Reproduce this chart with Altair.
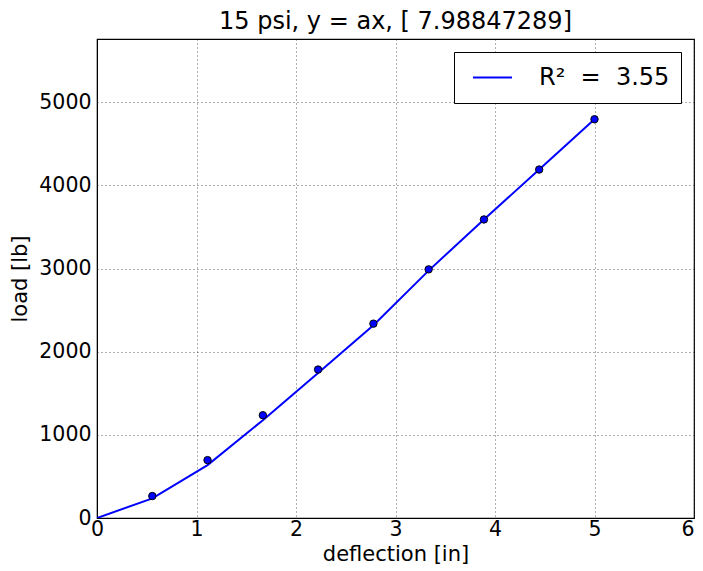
import altair as alt
import pandas as pd

# data
deflection_pts = [0.556, 1.111, 1.667, 2.222, 2.778, 3.333, 3.889, 4.444, 5.0]
load_pts = [264, 696, 1236, 1785, 2337, 2990, 3590, 4190, 4795]

deflection_fit = [0.0, 0.556, 1.111, 1.667, 2.222, 2.778, 3.333, 3.889, 4.444, 5.0]
load_fit = [0, 236, 636, 1176, 1744, 2317, 2975, 3590, 4190, 4795]

x_ticks = [0, 1, 2, 3, 4, 5, 6]
y_ticks = [0, 1000, 2000, 3000, 4000, 5000]
legend_label = "R²\u00a0\u00a0=\u00a0\u00a03.55"
title_text = "15 psi, y = ax, [ 7.98847289]"

pts = pd.DataFrame({"deflection": deflection_pts, "load": load_pts})
fit = pd.DataFrame({"deflection": deflection_fit, "load": load_fit, "series": legend_label})

FONT = "DejaVu Sans"

xscale = alt.Scale(domain=[0, 6], nice=False, zero=False)
yscale = alt.Scale(domain=[0, 5760], nice=False, zero=False)

xaxis = alt.Axis(
    values=x_ticks,
    title="deflection [in]",
    format="d",
    labelAlign={"condition": {"test": "datum.value >= 6", "value": "right"}, "value": "center"},
)
yaxis = alt.Axis(values=y_ticks, title="load [lb]", format="d")

line = alt.Chart(fit).mark_line(strokeWidth=2, clip=True).encode(
    x=alt.X("deflection:Q", scale=xscale, axis=xaxis),
    y=alt.Y("load:Q", scale=yscale, axis=yaxis),
    color=alt.Color(
        "series:N",
        scale=alt.Scale(domain=[legend_label], range=["#0000ff"]),
        legend=alt.Legend(
            title=None,
            orient="top-right",
            offset=13,
            symbolType="stroke",
            symbolSize=1521,
            symbolStrokeWidth=2,
            symbolOffset=7,
            clipHeight=29,
            labelFontSize=24,
            labelFont=FONT,
            labelColor="#000",
            labelOffset=26,
            padding=11,
            strokeColor="#000",
            fillColor="#fff",
            cornerRadius=0,
        ),
    ),
)

points = alt.Chart(pts).mark_point(
    filled=True, fill="#0000ff", stroke="#000", strokeWidth=1, size=55, opacity=1
).encode(
    x=alt.X("deflection:Q", scale=xscale),
    y=alt.Y("load:Q", scale=yscale),
)

chart = (
    alt.layer(line, points)
    .properties(
        width=597,
        height=479,
        title=alt.TitleParams(title_text, fontSize=24, font=FONT, fontWeight="normal", color="#000", offset=5),
        autosize=alt.AutoSizeParams(type="none"),
        padding={"left": 89, "top": 31, "right": 1, "bottom": 60},
    )
    .configure_view(stroke="#000", strokeWidth=1.2)
    .configure_axis(
        labelFont=FONT,
        titleFont=FONT,
        labelFontSize=20.5,
        titleFontSize=21,
        titleFontWeight="normal",
        labelColor="#000",
        titleColor="#000",
        labelFlush=False,
        grid=True,
        gridColor="#000",
        gridDash=[1, 3],
        gridWidth=0.8,
        gridOpacity=0.8,
        domainColor="#000",
        tickColor="#000",
        tickSize=0,
    )
    .configure_axisX(labelPadding=1, titlePadding=4)
    .configure_axisY(labelPadding=6, titlePadding=8)
)

chart.save("out.html", embed_options={"renderer": "svg", "actions": False})
